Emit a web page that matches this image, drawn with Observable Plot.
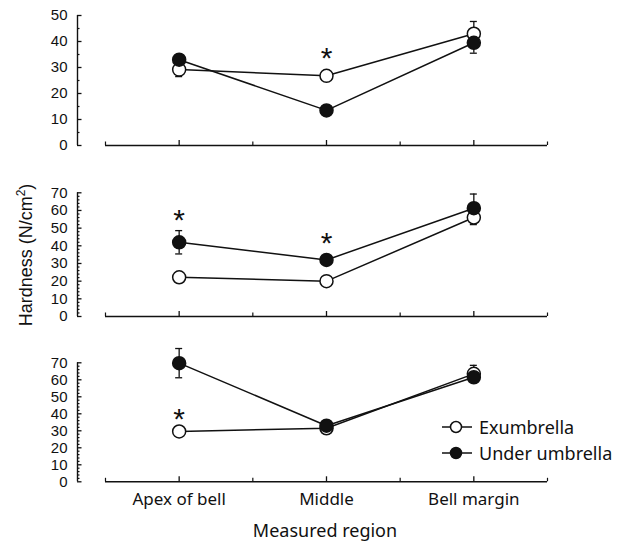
<!DOCTYPE html>
<html>
<head>
<meta charset="utf-8">
<script src="https://cdn.jsdelivr.net/npm/d3@7"></script>
<script src="https://cdn.jsdelivr.net/npm/@observablehq/plot@0.6"></script>
<style>
  html, body { margin: 0; padding: 0; background: #fff; }
  #chart { position: relative; width: 622px; height: 542px; overflow: hidden; background: #fff; }
  .panel { position: absolute; left: 0; }
  .title { position: absolute; color: #111; white-space: nowrap; }
  #ytitle { left: 26px; top: 255px; transform: translate(-50%, -50%) rotate(-90deg); font-family: "Liberation Sans", Arial, sans-serif; font-size: 18px; }
  #ytitle sup { font-size: 12px; vertical-align: 7px; line-height: 0; }
  #xtitle { left: 325px; top: 530px; transform: translate(-50%, -50%); font-family: "Noto Sans", sans-serif; font-size: 18px; }
  #legend { position: absolute; left: 442px; top: 414px; font-family: "Noto Sans", sans-serif; font-size: 18px; color: #111; }
  #legend .row { display: flex; align-items: center; height: 26px; }
  #legend svg { margin-right: 5px; }
</style>
</head>
<body>
<div id="chart">
  <div id="ytitle" class="title">Hardness (N/cm<sup>2</sup>)</div>
  <div id="xtitle" class="title">Measured region</div>
  <div id="legend"></div>
</div>
<script>
// ---- data ----
const regions = ["Apex of bell", "Middle", "Bell margin"];
const seriesNames = ["Exumbrella", "Under umbrella"];

// Panel 1 (top)
const p1Exum = [29.2, 26.8, 43.0];
const p1ExumErr = [2.7, 1.5, 4.7];
const p1Under = [33.0, 13.5, 39.5];
const p1UnderErr = [1.5, 1.2, 4.0];
const p1Stars = [{region: 1, value: 36.5}];

// Panel 2 (middle)
const p2Exum = [22.2, 20.0, 56.0];
const p2ExumErr = [1.5, 1.5, 4.0];
const p2Under = [42.0, 32.0, 61.3];
const p2UnderErr = [6.6, 2.0, 8.0];
const p2Stars = [{region: 0, value: 59.0}, {region: 1, value: 45.8}];

// Panel 3 (bottom)
const p3Exum = [29.6, 31.5, 63.5];
const p3ExumErr = [1.5, 1.5, 5.0];
const p3Under = [69.8, 33.0, 61.5];
const p3UnderErr = [8.6, 2.0, 2.0];
const p3Stars = [{region: 0, value: 41.5}];

// ---- drawing ----
const ink = "#111";
const xDomain = [-0.69, 2.5];
const plotWidth = 622, mLeft = 77, mRight = 75;
const pxPerX = (plotWidth - mLeft - mRight) / (xDomain[1] - xDomain[0]);
const capHalf = 3.5 / pxPerX;

function panel({top, height, marginTop, marginBottom, ymax, minorStep, exum, exumErr, under, underErr, stars, labels}) {
  const ex = regions.map((r, i) => ({i, v: exum[i], e: exumErr[i]}));
  const un = regions.map((r, i) => ({i, v: under[i], e: underErr[i]}));
  const both = ex.concat(un);
  const caps = both.flatMap(d => [{i: d.i, y: d.v - d.e}, {i: d.i, y: d.v + d.e}]);
  const majors = d3.range(0, ymax + 0.001, 10);
  const minors = d3.range(0, ymax + 0.001, minorStep).filter(v => v % 10 !== 0);
  const marks = [
    Plot.ruleX([xDomain[0]], {y1: 0, y2: ymax, stroke: ink, strokeWidth: 1.4}),
    Plot.ruleY([0], {x1: -0.5, x2: 2.5, stroke: ink, strokeWidth: 1.4}),
    Plot.axisY({ticks: majors, tickSize: 4.5, dx: 4.5, tickPadding: 10, stroke: ink, strokeWidth: 1.3,
      fill: ink, fontSize: 15, fontWeight: 500, fontFamily: "Liberation Sans, Arial, sans-serif", label: null}),
    Plot.axisY({ticks: minors, tickSize: 2.5, dx: 2.5, tickFormat: () => "", stroke: ink, strokeWidth: 1.2, label: null}),
    Plot.axisX({ticks: [0, 1, 2], tickSize: 5, dy: -5, tickFormat: () => "", stroke: ink, strokeWidth: 1.3, label: null}),
    Plot.axisX({ticks: [-0.5, 0.5, 1.5, 2.5], tickSize: 3.5, dy: -3.5, tickFormat: () => "", stroke: ink, strokeWidth: 1.2, label: null}),
    Plot.line(ex, {x: "i", y: "v", stroke: ink, strokeWidth: 1.5}),
    Plot.line(un, {x: "i", y: "v", stroke: ink, strokeWidth: 1.5}),
    Plot.ruleX(both, {x: "i", y1: d => d.v - d.e, y2: d => d.v + d.e, stroke: ink, strokeWidth: 1.3}),
    Plot.ruleY(caps, {y: "y", x1: d => d.i - capHalf, x2: d => d.i + capHalf, stroke: ink, strokeWidth: 1.3}),
    Plot.dot(ex, {x: "i", y: "v", r: 6.5, fill: "white", stroke: ink, strokeWidth: 1.5}),
    Plot.dot(un, {x: "i", y: "v", r: 6.5, fill: ink, stroke: ink, strokeWidth: 1.5}),
    Plot.text(stars, {x: "region", y: "value", text: () => "*", fontSize: 30, dy: 8, fill: ink,
      fontFamily: "Liberation Sans, Arial, sans-serif"})
  ];
  if (labels) {
    marks.push(Plot.axisX({ticks: [0, 1, 2], tickSize: 0, tickPadding: 11, tickFormat: i => regions[i],
      fill: ink, fontSize: 17, fontFamily: "Noto Sans, sans-serif", label: null}));
  }
  const svg = Plot.plot({
    width: plotWidth, height, marginTop, marginBottom, marginLeft: mLeft, marginRight: mRight,
    style: {background: "transparent", color: ink, overflow: "visible"},
    x: {domain: xDomain, label: null},
    y: {domain: [0, ymax], label: null},
    marks
  });
  const div = document.createElement("div");
  div.className = "panel";
  div.style.top = top + "px";
  div.appendChild(svg);
  document.getElementById("chart").appendChild(div);
}

panel({top: 0, height: 153, marginTop: 15, marginBottom: 8, ymax: 50, minorStep: 5,
  exum: p1Exum, exumErr: p1ExumErr, under: p1Under, underErr: p1UnderErr, stars: p1Stars, labels: false});
panel({top: 170, height: 154, marginTop: 22.3, marginBottom: 8, ymax: 70, minorStep: 2,
  exum: p2Exum, exumErr: p2ExumErr, under: p2Under, underErr: p2UnderErr, stars: p2Stars, labels: false});
panel({top: 340, height: 202, marginTop: 22.3, marginBottom: 60.7, ymax: 70, minorStep: 2,
  exum: p3Exum, exumErr: p3ExumErr, under: p3Under, underErr: p3UnderErr, stars: p3Stars, labels: true});

// legend
const legend = document.getElementById("legend");
seriesNames.forEach((name, k) => {
  const row = document.createElement("div");
  row.className = "row";
  const fill = k === 0 ? "white" : ink;
  row.innerHTML = `<svg width="32" height="14"><line x1="0" x2="30" y1="7" y2="7" stroke="${ink}" stroke-width="1.5"/><circle cx="14" cy="7" r="5.5" fill="${fill}" stroke="${ink}" stroke-width="1.5"/></svg><span>${name}</span>`;
  legend.appendChild(row);
});
</script>
</body>
</html>
